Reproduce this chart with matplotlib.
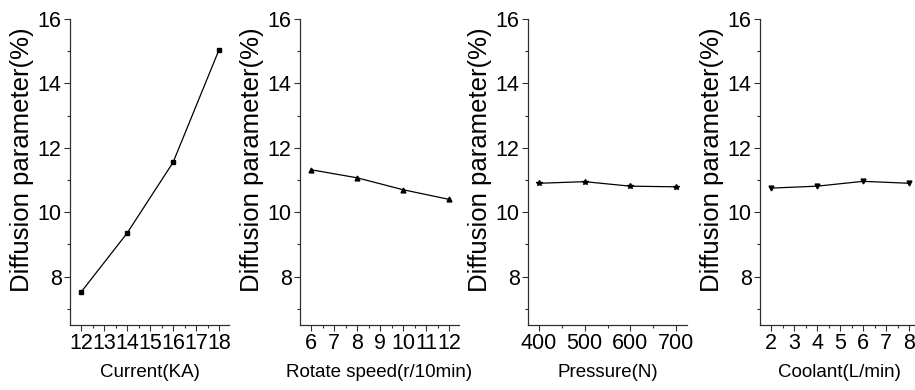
import matplotlib
matplotlib.use('Agg')
import matplotlib.pyplot as plt
from matplotlib.ticker import MultipleLocator

plt.rcParams['font.family'] = ['Liberation Sans', 'DejaVu Sans']

# data
current = [12, 14, 16, 18]
current_y = [7.52, 9.35, 11.55, 15.05]

speed = [6, 8, 10, 12]
speed_y = [11.32, 11.07, 10.70, 10.40]

pressure = [400, 500, 600, 700]
pressure_y = [10.90, 10.95, 10.81, 10.79]

coolant = [2, 4, 6, 8]
coolant_y = [10.75, 10.81, 10.96, 10.90]

x_labels = ['Current(KA)', 'Rotate speed(r/10min)', 'Pressure(N)', 'Coolant(L/min)']
y_label = 'Diffusion parameter(%)'

W, H = 915, 390
fig = plt.figure(figsize=(W / 100, H / 100), dpi=100)

panels = [
    (current, current_y, 's', 3.0, (11.52, 18.43), 1, 0.5, 70),
    (speed, speed_y, '^', 3.5, (5.52, 12.43), 1, 0.5, 300),
    (pressure, pressure_y, '*', 4.0, (376, 724), 100, 50, 528),
    (coolant, coolant_y, 'v', 3.5, (1.52, 8.43), 1, 0.5, 760),
]

top_px, bot_px, width_px = 19, 325, 159
for (xs, ys, mk, ms, xlim, major, minor, left_px), xl in zip(panels, x_labels):
    ax = fig.add_axes([left_px / W, (H - bot_px) / H, width_px / W, (bot_px - top_px) / H])
    ax.plot(xs, ys, color='black', linewidth=0.9, marker=mk, markersize=ms,
            markerfacecolor='black', markeredgecolor='black')
    ax.set_xlim(*xlim)
    ax.set_ylim(6.5, 16)
    ax.xaxis.set_major_locator(MultipleLocator(major))
    ax.xaxis.set_minor_locator(MultipleLocator(minor))
    ax.yaxis.set_major_locator(MultipleLocator(2))
    ax.yaxis.set_minor_locator(MultipleLocator(1))
    for side in ('top', 'right'):
        ax.spines[side].set_visible(False)
    for side in ('left', 'bottom'):
        ax.spines[side].set_color('#303030')
        ax.spines[side].set_linewidth(0.9)
    ax.tick_params(which='major', direction='out', length=4, width=0.8,
                   color='#303030', labelsize=15.5, pad=2)
    ax.tick_params(which='minor', direction='out', length=2.5, width=0.8, color='#303030')
    ax.set_xlabel(xl, fontsize=13.5, labelpad=7)
    ax.set_ylabel(y_label, fontsize=18.5)
    ax.yaxis.set_label_coords(-36 / width_px, 0.54)
    ax.patch.set_alpha(0)

fig.savefig('out.png', dpi=100, facecolor='white')
